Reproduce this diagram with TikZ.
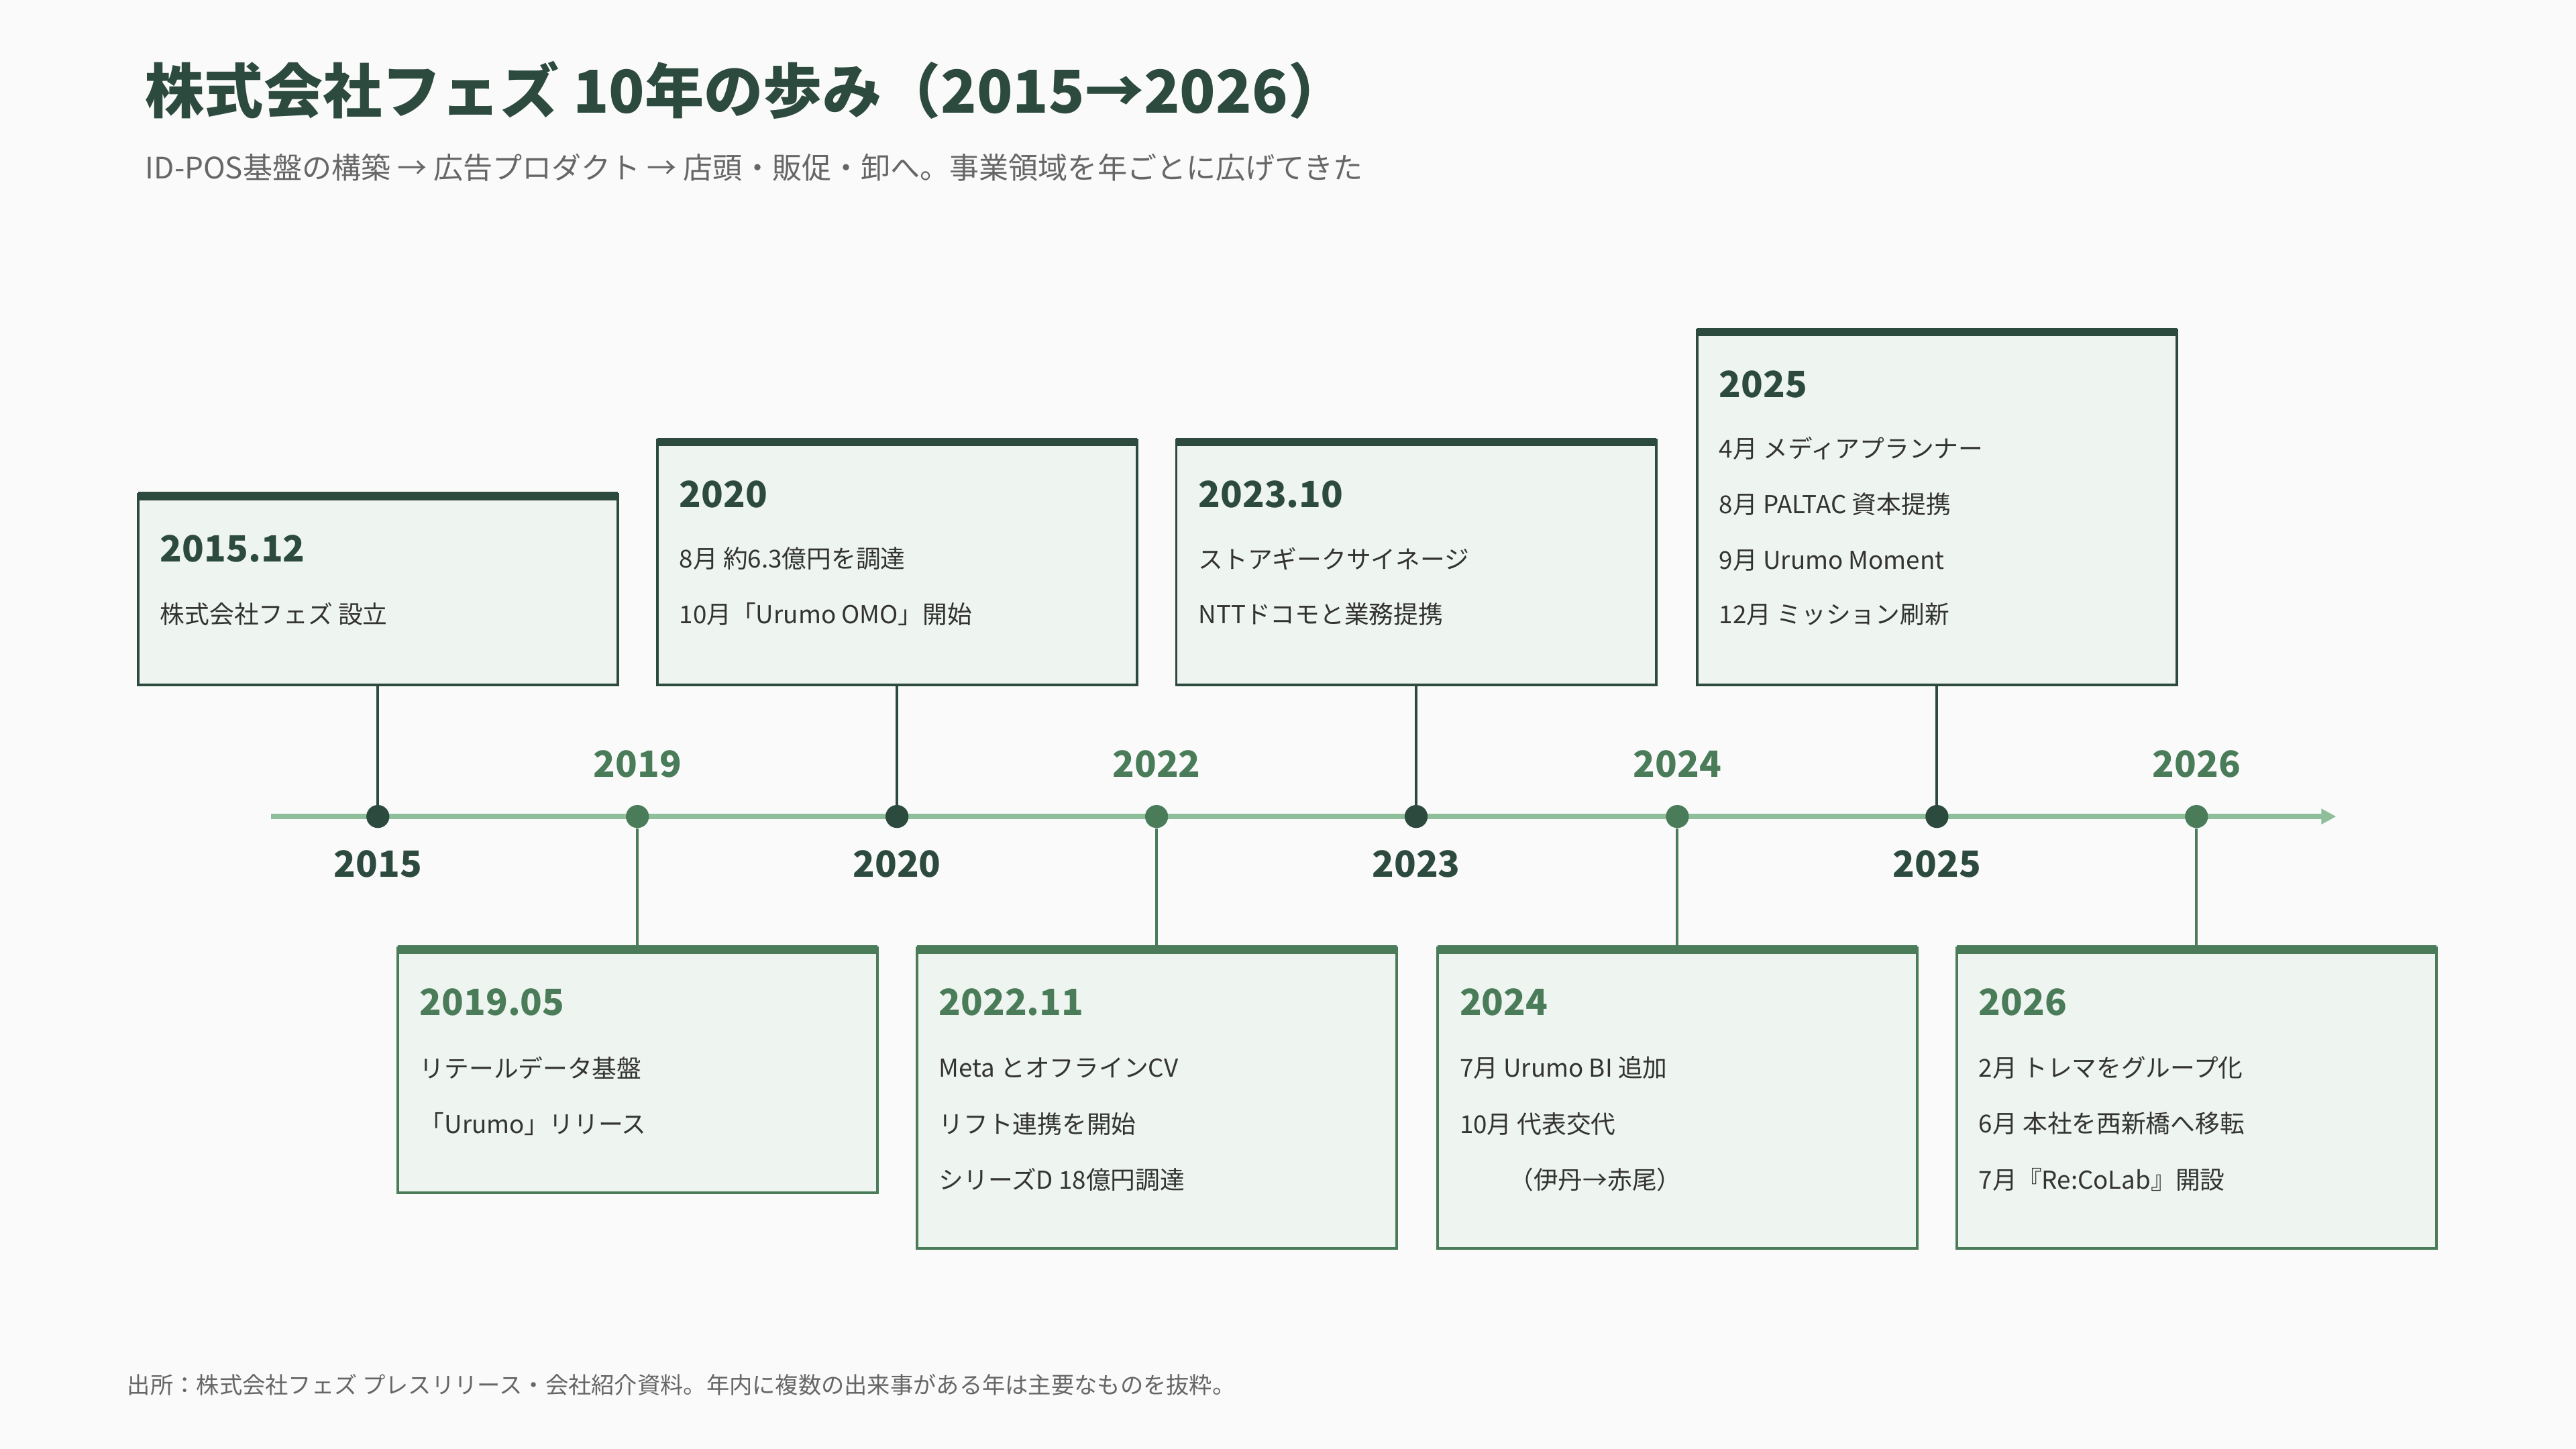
\documentclass[tikz,border=0pt]{standalone}
\usepackage{fontspec}
\setmainfont{Noto Sans CJK JP}
\usetikzlibrary{arrows.meta}
\definecolor{dk}{HTML}{2D4A3E}
\definecolor{md}{HTML}{4A7C59}
\definecolor{ln}{HTML}{8FBF9A}
\definecolor{bx}{HTML}{EEF4EF}
\definecolor{bg}{HTML}{FAFAFA}
\definecolor{gy}{HTML}{666666}
\begin{document}
\begin{tikzpicture}[x=1pt,y=-1pt,
  box/.style={draw=#1,fill=bx,line width=1.6pt},
  bar/.style={draw=#1,line width=5pt},
  head/.style={anchor=west,text=#1,font=\fontsize{22}{26}\selectfont\bfseries},
  txt/.style={anchor=west,text=black!80,font=\fontsize{15}{18}\selectfont},
  yr/.style={text=#1,font=\fontsize{22}{26}\selectfont\bfseries},
  dot/.style={circle,fill=#1,inner sep=0,minimum size=14pt},
  conn/.style={draw=#1,line width=1.6pt}]
\fill[bg] (0,0) rectangle (1568,882);
\node[anchor=west,text=dk,font=\fontsize{36}{40}\selectfont\bfseries] (title) at (85,55) {株式会社フェズ 10年の歩み（2015→2026）};
\node[anchor=west,text=gy,font=\fontsize{18}{22}\selectfont] (sub) at (85,102) {ID-POS基盤の構築 → 広告プロダクト → 店頭・販促・卸へ。事業領域を年ごとに広げてきた};
\node[anchor=west,text=gy,font=\fontsize{14}{17}\selectfont] (foot) at (74,843) {出所：株式会社フェズ プレスリリース・会社紹介資料。年内に複数の出来事がある年は主要なものを抜粋。};
% timeline
\coordinate (ls) at (165,497); \coordinate (le) at (1422,497);
\draw[ln,line width=3pt,-{Triangle[length=9pt,width=9pt]}] (ls) -- (le);
% dots and years
\foreach \n/\x/\c/\yy in {d15/230/dk/526,d19/388/md/465,d20/546/dk/526,d22/704/md/465,d23/862/dk/526,d24/1021/md/465,d25/1179/dk/526,d26/1337/md/465}{
  \node[dot=\c] (\n) at (\x,497) {};
}
\node[yr=dk] (y15) at (230,526) {2015};
\node[yr=md] (y19) at (388,465) {2019};
\node[yr=dk] (y20) at (546,526) {2020};
\node[yr=md] (y22) at (704,465) {2022};
\node[yr=dk] (y23) at (862,526) {2023};
\node[yr=md] (y24) at (1021,465) {2024};
\node[yr=dk] (y25) at (1179,526) {2025};
\node[yr=md] (y26) at (1337,465) {2026};
% top boxes
\draw[box=dk] (84,301) rectangle (376,417); \draw[bar=dk] (84,302) -- (376,302);
\coordinate (b15) at (230,417);
\node[head=dk] (h15) at (94,334) {2015.12};
\node[txt] (t15a) at (94,374) {株式会社フェズ 設立};

\draw[box=dk] (400,268) rectangle (692,417); \draw[bar=dk] (400,269) -- (692,269);
\coordinate (b20) at (546,417);
\node[head=dk] (h20) at (410,301) {2020};
\node[txt] (t20a) at (410,340) {8月 約6.3億円を調達};
\node[txt] (t20b) at (410,374) {10月「Urumo OMO」開始};

\draw[box=dk] (716,268) rectangle (1008,417); \draw[bar=dk] (716,269) -- (1008,269);
\coordinate (b23) at (862,417);
\node[head=dk] (h23) at (726,301) {2023.10};
\node[txt] (t23a) at (726,340) {ストアギークサイネージ};
\node[txt] (t23b) at (726,374) {NTTドコモと業務提携};

\draw[box=dk] (1033,201) rectangle (1325,417); \draw[bar=dk] (1033,202) -- (1325,202);
\coordinate (b25) at (1179,417);
\node[head=dk] (h25) at (1043,234) {2025};
\node[txt] (t25a) at (1043,273) {4月 メディアプランナー};
\node[txt] (t25b) at (1043,307) {8月 PALTAC 資本提携};
\node[txt] (t25c) at (1043,341) {9月 Urumo Moment};
\node[txt] (t25d) at (1043,374) {12月 ミッション刷新};
% bottom boxes
\draw[box=md] (242,577) rectangle (534,726); \draw[bar=md] (242,578) -- (534,578);
\coordinate (b19) at (388,577);
\node[head=md] (h19) at (252,610) {2019.05};
\node[txt] (t19a) at (252,650) {リテールデータ基盤};
\node[txt] (t19b) at (252,684) {「Urumo」リリース};

\draw[box=md] (558,577) rectangle (850,760); \draw[bar=md] (558,578) -- (850,578);
\coordinate (b22) at (704,577);
\node[head=md] (h22) at (568,610) {2022.11};
\node[txt] (t22a) at (568,650) {Meta とオフラインCV};
\node[txt] (t22b) at (568,684) {リフト連携を開始};
\node[txt] (t22c) at (568,718) {シリーズD 18億円調達};

\draw[box=md] (875,577) rectangle (1167,760); \draw[bar=md] (875,578) -- (1167,578);
\coordinate (b24) at (1021,577);
\node[head=md] (h24) at (885,610) {2024};
\node[txt] (t24a) at (885,650) {7月 Urumo BI 追加};
\node[txt] (t24b) at (885,684) {10月 代表交代};
\node[txt] (t24c) at (915,718) {（伊丹→赤尾）};

\draw[box=md] (1191,577) rectangle (1483,760); \draw[bar=md] (1191,578) -- (1483,578);
\coordinate (b26) at (1337,577);
\node[head=md] (h26) at (1201,610) {2026};
\node[txt] (t26a) at (1201,650) {2月 トレマをグループ化};
\node[txt] (t26b) at (1201,684) {6月 本社を西新橋へ移転};
\node[txt] (t26c) at (1201,718) {7月『Re:CoLab』開設};
% connectors
\draw[conn=dk] (b15) -- (d15); \draw[conn=dk] (b20) -- (d20);
\draw[conn=dk] (b23) -- (d23); \draw[conn=dk] (b25) -- (d25);
\draw[conn=md] (b19) -- (d19); \draw[conn=md] (b22) -- (d22);
\draw[conn=md] (b24) -- (d24); \draw[conn=md] (b26) -- (d26);
\end{tikzpicture}
\end{document}
